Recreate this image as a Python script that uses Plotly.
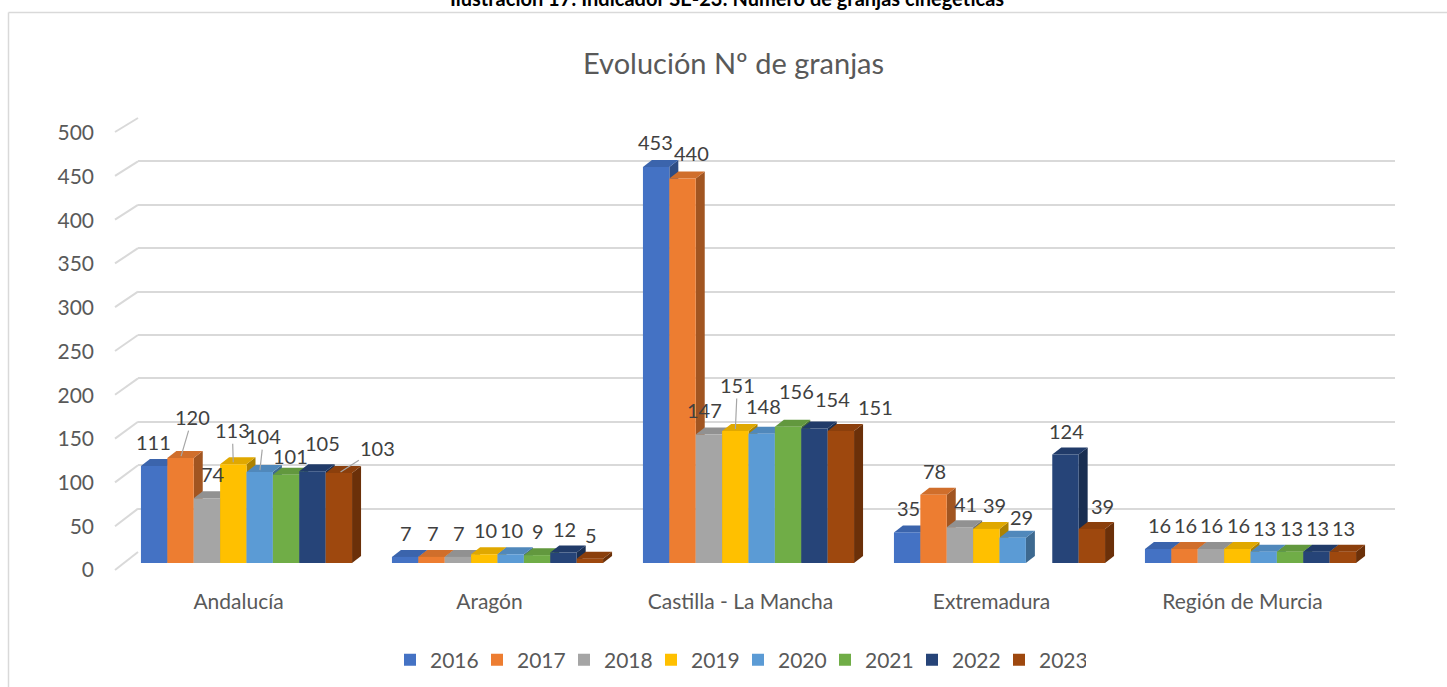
import plotly.graph_objects as go

# --- data -------------------------------------------------------------
regions = ["Andalucía", "Aragón", "Castilla - La Mancha", "Extremadura", "Región de Murcia"]
years = ["2016", "2017", "2018", "2019", "2020", "2021", "2022", "2023"]

granjas_2016 = [111, 7, 453, 35, 16]
granjas_2017 = [120, 7, 440, 78, 16]
granjas_2018 = [74, 7, 147, 41, 16]
granjas_2019 = [113, 10, 151, 39, 16]
granjas_2020 = [104, 10, 148, 29, 13]
granjas_2021 = [101, 9, 156, None, 13]
granjas_2022 = [105, 12, 154, 124, 13]
granjas_2023 = [103, 5, 151, 39, 13]

series = [granjas_2016, granjas_2017, granjas_2018, granjas_2019,
          granjas_2020, granjas_2021, granjas_2022, granjas_2023]

y_ticks = [0, 50, 100, 150, 200, 250, 300, 350, 400, 450, 500]

colors = ["#4472C4", "#ED7D31", "#A5A5A5", "#FFC000",
          "#5B9BD5", "#70AD47", "#264478", "#9E480E"]

# --- layout geometry (pixels) -------------------------------------------
W, H = 1447, 687
FONT = "Lato"
BARGAP = 0.159
X_DOM = (121, 1376)          # bar plot area, left/right
Y_FRONT = (563, 126)         # pixel rows of 0 and 500 on the front plane
Y_BACK = (552, 118)          # back wall gridlines
GRID_X = (138, 1395)
DEPTH = (9, 7)               # 3-D depth offset of the columns (px right, px up)


def fx(p):
    return p / W


def fy(p):
    return 1 - p / H


def shade(hex_color, f):
    h = hex_color.lstrip("#")
    r, g, b = (int(h[k:k + 2], 16) for k in (0, 2, 4))
    return "rgb({},{},{})".format(int(r * f), int(g * f), int(b * f))


cat_px = (X_DOM[1] - X_DOM[0]) / len(regions)
unit_px = (Y_FRONT[0] - Y_FRONT[1]) / 500.0
dx = DEPTH[0] / cat_px
dy = DEPTH[1] / unit_px
n = len(years)
bw = (1 - BARGAP) / n

fig = go.Figure()

# empty trace for the back-wall grid subplot
fig.add_trace(go.Scatter(x=[None], y=[None], xaxis="x", yaxis="y",
                         showlegend=False, hoverinfo="skip"))

for i, yr in enumerate(years):
    fig.add_trace(go.Bar(
        name=yr, x=regions, y=series[i], marker_color=colors[i],
        marker_line_width=0, xaxis="x2", yaxis="y2", hoverinfo="x+y+name",
    ))

shapes = []
# side and top faces of each column
for c in range(len(regions)):
    for i in range(n):
        v = series[i][c]
        if v is None:
            continue
        x0 = c - (1 - BARGAP) / 2 + i * bw
        x1 = x0 + bw
        side = "M{a},0 L{b},{d} L{b},{e} L{a},{v} Z".format(
            a=x1, b=x1 + dx, d=dy, e=v + dy, v=v)
        top = "M{a},{v} L{b},{v} L{c2},{e} L{d2},{e} Z".format(
            a=x0, b=x1, c2=x1 + dx, d2=x0 + dx, v=v, e=v + dy)
        shapes.append(dict(type="path", path=side, xref="x2", yref="y2",
                           fillcolor=shade(colors[i], 0.68), line_width=0,
                           layer="below"))
        shapes.append(dict(type="path", path=top, xref="x2", yref="y2",
                           fillcolor=shade(colors[i], 0.88), line_width=0,
                           layer="below"))

# diagonal side-wall segments of the gridlines
for t in y_ticks:
    ya = 570 - t * 438 / 500.0
    yb = Y_BACK[0] - t * (Y_BACK[0] - Y_BACK[1]) / 500.0
    shapes.append(dict(type="line", xref="paper", yref="paper",
                       x0=fx(115), y0=fy(ya), x1=fx(GRID_X[0]), y1=fy(yb),
                       line=dict(color="#d9d9d9", width=2), layer="below"))

# chart frame
shapes.append(dict(type="line", xref="paper", yref="paper",
                   x0=fx(8.5), y0=fy(12.5), x1=1.05, y1=fy(12.5),
                   line=dict(color="#d9d9d9", width=1.5)))
shapes.append(dict(type="line", xref="paper", yref="paper",
                   x0=fx(8.5), y0=fy(12.5), x1=fx(8.5), y1=-0.05,
                   line=dict(color="#d9d9d9", width=1.5)))

# label offsets (px) from column top; entries with True get a leader line
LABEL_DEFAULT = (1, -24, False)
LABEL_NUDGE = {
    (0, 0): (-1, -24, False), (0, 1): (12, -41, True), (0, 2): (6, -24, False),
    (0, 3): (-1, -34, True), (0, 4): (4, -36, True), (0, 5): (4, -19, False),
    (0, 6): (10, -28, False), (0, 7): (39, -25, True),
    (2, 0): (-1, -25, False), (2, 1): (9, -25, False), (2, 2): (-4, -25, False),
    (2, 3): (2, -46, True), (2, 4): (2, -28, False), (2, 5): (8, -36, False),
    (2, 6): (18, -29, False), (2, 7): (35, -24, False),
    (3, 2): (6, -23, False), (3, 3): (8, -24, False), (3, 4): (9, -21, False),
    (3, 7): (11, -23, False),
}

annotations = []
for c in range(len(regions)):
    for i in range(n):
        v = series[i][c]
        if v is None:
            continue
        xc = c - (1 - BARGAP) / 2 + (i + 0.5) * bw
        ax, ay, leader = LABEL_NUDGE.get((c, i), LABEL_DEFAULT)
        annotations.append(dict(
            x=xc, y=v, xref="x2", yref="y2", text=str(v),
            showarrow=True, ax=ax, ay=ay, arrowhead=0, arrowwidth=1.2,
            standoff=2,
            arrowcolor="#a6a6a6" if leader else "rgba(0,0,0,0)",
            font=dict(family=FONT, size=20, color="#404040"),
        ))

annotations.append(dict(
    text="<b>Ilustración 17: Indicador SE-23: Número de granjas cinegéticas</b>",
    x=fx(727), y=fy(12), xref="paper", yref="paper", showarrow=False,
    xanchor="center", yanchor="bottom",
    font=dict(family=FONT, size=20, color="#000000"),
))
annotations.append(dict(
    text="Evolución Nº de granjas",
    x=fx(733), y=fy(62), xref="paper", yref="paper", showarrow=False,
    xanchor="center", yanchor="middle",
    font=dict(family=FONT, size=29, color="#595959"),
))

fig.update_layout(
    template="none",
    width=W, height=H, autosize=False,
    margin=dict(l=0, r=0, t=0, b=0, pad=0),
    paper_bgcolor="white", plot_bgcolor="rgba(0,0,0,0)",
    barmode="group", bargap=BARGAP, bargroupgap=0,
    font=dict(family=FONT, color="#595959"),
    xaxis=dict(domain=[fx(GRID_X[0]), fx(GRID_X[1])], range=[0, 1],
               visible=False, anchor="y", automargin=False),
    yaxis=dict(domain=[fy(Y_BACK[0]), fy(Y_BACK[1])], range=[0, 500],
               tickvals=y_ticks, showticklabels=False, showgrid=True,
               gridcolor="#d9d9d9", gridwidth=2, zeroline=False,
               showline=False, anchor="x", automargin=False, ticks=""),
    xaxis2=dict(domain=[fx(X_DOM[0]), fx(X_DOM[1])], anchor="y2",
                type="category", range=[-0.5, len(regions) - 0.5],
                showgrid=False, showline=False, zeroline=False, ticks="",
                tickfont=dict(family=FONT, size=21, color="#595959"),
                ticklabelstandoff=24, ticklabelshift=-8, automargin=False),
    yaxis2=dict(domain=[fy(Y_FRONT[0]), fy(Y_FRONT[1])], anchor="x2",
                range=[0, 500], tickvals=y_ticks, showgrid=False,
                zeroline=False, showline=False, ticks="",
                tickfont=dict(family=FONT, size=21, color="#595959"),
                ticklabelstandoff=26, ticklabelshift=7, automargin=False),
    legend=dict(orientation="h", x=fx(738), y=fy(660), xanchor="center",
                yanchor="middle", font=dict(family=FONT, size=21, color="#595959"),
                itemwidth=30, traceorder="normal", entrywidth=42,
                entrywidthmode="pixels", bgcolor="rgba(0,0,0,0)"),
    shapes=shapes, annotations=annotations,
)

fig.write_html("out.html")
